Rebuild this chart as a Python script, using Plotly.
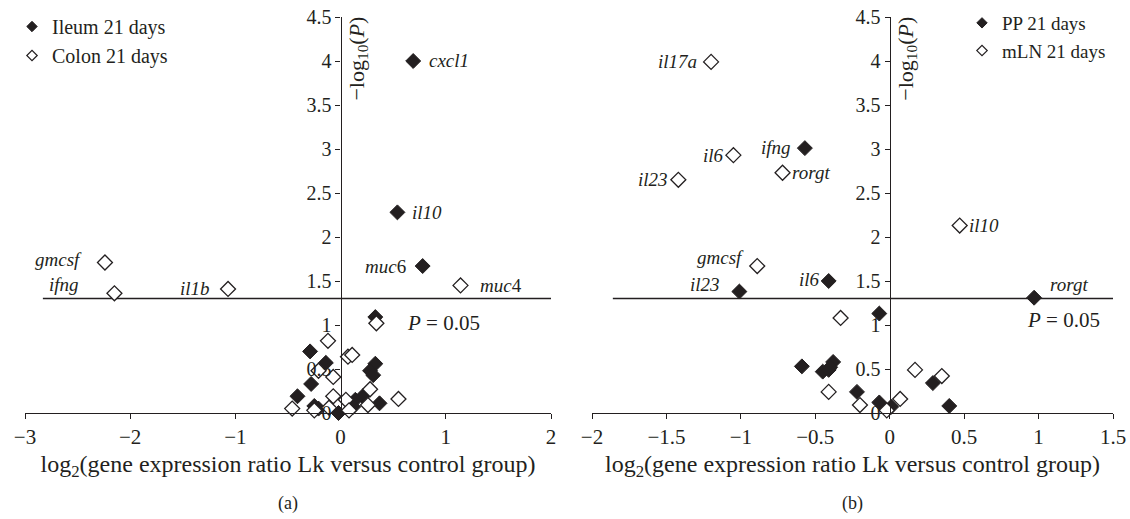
import math
import plotly.graph_objects as go

# page size (the body margin is removed by a post script so the figure fills the page)
W, H = 1130, 519

# ---------------- data ----------------
# Panel (a)
ileum_x = [0.69, 0.54, 0.78, 0.33, -0.29, -0.14, 0.33, 0.28, 0.31, -0.28, -0.41, 0.21, 0.14, 0.37, -0.25, -0.21, -0.02, 0.12]
ileum_y = [4.00, 2.28, 1.67, 1.09, 0.70, 0.57, 0.56, 0.48, 0.43, 0.33, 0.19, 0.19, 0.15, 0.11, 0.08, 0.05, 0.00, 0.07]
ileum_labels = ["<i>cxcl1</i>", "<i>il10</i>", "<i>muc</i>6"]

colon_x = [-2.24, -2.15, -1.07, 1.14, 0.34, -0.12, 0.07, 0.11, -0.21, -0.07, 0.28, -0.07, 0.05, 0.55, 0.26, -0.46, -0.25, -0.11, 0.08]
colon_y = [1.71, 1.36, 1.41, 1.45, 1.02, 0.82, 0.64, 0.66, 0.48, 0.41, 0.27, 0.19, 0.15, 0.16, 0.09, 0.05, 0.03, 0.06, 0.03]
colon_labels = ["<i>gmcsf</i>", "<i>ifng</i>", "<i>il1b</i>", "<i>muc</i>4"]

# Panel (b)
pp_x = [-0.57, -0.41, -1.01, 0.97, -0.07, -0.59, -0.45, -0.41, -0.38, -0.40, -0.22, -0.07, 0.01, 0.29, 0.40]
pp_y = [3.01, 1.50, 1.38, 1.31, 1.13, 0.53, 0.47, 0.49, 0.58, 0.52, 0.24, 0.12, 0.07, 0.34, 0.08]
pp_labels = ["<i>ifng</i>", "<i>il6</i>", "<i>il23</i>", "<i>rorgt</i>"]

mln_x = [-1.20, -1.05, -0.72, -1.42, -0.89, 0.47, -0.33, -0.41, -0.20, -0.02, 0.07, 0.17, 0.35]
mln_y = [3.99, 2.93, 2.73, 2.65, 1.67, 2.13, 1.08, 0.24, 0.09, 0.03, 0.16, 0.49, 0.42]
mln_labels = ["<i>il17a</i>", "<i>il6</i>", "<i>rorgt</i>", "<i>il23</i>", "<i>gmcsf</i>", "<i>il10</i>"]

p_threshold = 0.05
thr_a_x = [-2.83, 2.0]
thr_b_x = [-1.86, 1.5]

xticks_a = [-3, -2, -1, 0, 1, 2]
xticks_b = [-2, -1.5, -1, -0.5, 0, 0.5, 1, 1.5]
yticks = [0, 0.5, 1, 1.5, 2, 2.5, 3, 3.5, 4, 4.5]

# ---------------- style ----------------
INK = "#231f20"
FONT = "Liberation Serif"
MS = 11.5
LAB = 19

# label offsets (xshift, yshift, anchor) - style only
ileum_off = [(14, 0, "left"), (13, 0, "left"), (-15, 0, "right")]
colon_off = [(-21, 3, "right"), (-33, 9, "right"), (-16, 0, "right"), (17, 0, "left")]
pp_off = [(-12, 1, "right"), (-7, 2, "right"), (-17, 7, "right"), (14, 13, "left")]
mln_off = [(-12, 0, "right"), (-7, 0, "right"), (7, 0, "left"), (-8, 0, "right"), (-11, 9, "right"), (7, 0, "left")]

# pixel geometry (page pixels)
ax_a = (25, 551)
ax_b = (592, 1113)
plot_top, plot_bot = 17, 413


def px(v):
    return v / W


def py(v):
    return (H - v) / H


thr_y = -math.log10(p_threshold)

fig = go.Figure()

fig.add_trace(go.Scatter(x=thr_a_x, y=[thr_y, thr_y], mode="lines", line=dict(color=INK, width=1.3),
                         showlegend=False, hoverinfo="skip", xaxis="x", yaxis="y"))
fig.add_trace(go.Scatter(x=thr_b_x, y=[thr_y, thr_y], mode="lines", line=dict(color=INK, width=1.3),
                         showlegend=False, hoverinfo="skip", xaxis="x2", yaxis="y2"))

filled = dict(symbol="diamond", size=MS, color=INK, line=dict(color=INK, width=1))
opened = dict(symbol="diamond", size=MS, color="white", line=dict(color=INK, width=1.3))
filled_leg = dict(symbol="diamond", size=8, color=INK, line=dict(color=INK, width=1))
opened_leg = dict(symbol="diamond", size=8, color="white", line=dict(color=INK, width=1.2))

series = [
    ("Ileum 21 days", ileum_x, ileum_y, filled, filled_leg, "x", "y", "legend"),
    ("Colon 21 days", colon_x, colon_y, opened, opened_leg, "x", "y", "legend"),
    ("PP 21 days", pp_x, pp_y, filled, filled_leg, "x2", "y2", "legend2"),
    ("mLN 21 days", mln_x, mln_y, opened, opened_leg, "x2", "y2", "legend2"),
]
for name, xs, ys, mk, mkl, xa, ya, lg in series:
    fig.add_trace(go.Scatter(x=xs, y=ys, mode="markers", name=name, marker=mk, cliponaxis=False,
                             xaxis=xa, yaxis=ya, showlegend=False))
    # legend-only entry (smaller symbol, as in the reference legend)
    fig.add_trace(go.Scatter(x=[None], y=[None], mode="markers", name=name, marker=mkl,
                             xaxis=xa, yaxis=ya, legend=lg, showlegend=True))

annotations = []


def add_labels(xs, ys, labels, offs, xref, yref):
    for i, lab in enumerate(labels):
        dx, dy, anc = offs[i]
        annotations.append(dict(x=xs[i], y=ys[i], xref=xref, yref=yref, text=lab, showarrow=False,
                                xanchor=anc, yanchor="middle", xshift=dx, yshift=dy,
                                font=dict(family=FONT, size=LAB, color=INK)))


add_labels(ileum_x, ileum_y, ileum_labels, ileum_off, "x", "y")
add_labels(colon_x, colon_y, colon_labels, colon_off, "x", "y")
add_labels(pp_x, pp_y, pp_labels, pp_off, "x2", "y2")
add_labels(mln_x, mln_y, mln_labels, mln_off, "x2", "y2")

# P = 0.05 notes
annotations.append(dict(x=0.61, y=1.02, xref="x", yref="y", text="<i>P</i> = 0.05", showarrow=False,
                        xanchor="left", yanchor="middle", font=dict(family=FONT, size=21, color=INK)))
annotations.append(dict(x=0.91, y=1.06, xref="x2", yref="y2", text="<i>P</i> = 0.05", showarrow=False,
                        xanchor="left", yanchor="middle", font=dict(family=FONT, size=21, color=INK)))

# y-axis titles (rotated)
for xr, yr in (("x", "y"), ("x2", "y2")):
    annotations.append(dict(x=0, y=4.5, xref=xr, yref=yr, text="\u2212log<sub>10</sub>(<i>P</i>)",
                            showarrow=False, textangle=-90, xanchor="left", yanchor="top", xshift=1, yshift=2,
                            font=dict(family=FONT, size=22, color=INK)))

# panel letters
annotations.append(dict(x=px(sum(ax_a) / 2), y=py(503), xref="paper", yref="paper", text="(a)", showarrow=False,
                        xanchor="center", yanchor="middle", font=dict(family=FONT, size=18, color=INK)))
annotations.append(dict(x=px(sum(ax_b) / 2), y=py(503), xref="paper", yref="paper", text="(b)", showarrow=False,
                        xanchor="center", yanchor="middle", font=dict(family=FONT, size=18, color=INK)))

xtitle = "log<sub>2</sub>(gene expression ratio Lk versus control group)"

common_x = dict(showline=True, linecolor=INK, linewidth=1.3, ticks="outside", ticklen=5, tickwidth=1.3,
                tickcolor=INK, showgrid=False, zeroline=False, automargin=False, ticklabeloverflow="allow",
                tickfont=dict(family=FONT, size=21, color=INK))
common_y = dict(showline=True, linecolor=INK, linewidth=1.3, ticks="outside", ticklen=5, tickwidth=1.3,
                tickcolor=INK, showgrid=False, zeroline=False, range=[0, 4.5], tickvals=yticks,
                ticklabeloverflow="allow",
                tickfont=dict(family=FONT, size=20, color=INK), anchor="free", automargin=False)

x0_a = ax_a[0] + (0 - (-3)) / 5 * (ax_a[1] - ax_a[0])
x0_b = ax_b[0] + (0 - (-2)) / 3.5 * (ax_b[1] - ax_b[0])

fig.update_layout(
    width=W, height=H,
    margin=dict(l=0, r=0, t=0, b=0, autoexpand=False),
    paper_bgcolor="white", plot_bgcolor="white",
    font=dict(family=FONT, color=INK),
    xaxis=dict(domain=[px(ax_a[0]), px(ax_a[1])], range=[-3, 2], tickvals=xticks_a, anchor="y",
               title=dict(text=xtitle, font=dict(family=FONT, size=24, color=INK), standoff=6), **common_x),
    xaxis2=dict(domain=[px(ax_b[0]), px(ax_b[1])], range=[-2, 1.5], tickvals=xticks_b, anchor="y2",
                title=dict(text=xtitle, font=dict(family=FONT, size=24, color=INK), standoff=6), **common_x),
    yaxis=dict(domain=[py(plot_bot), py(plot_top)], position=px(x0_a), **common_y),
    yaxis2=dict(domain=[py(plot_bot), py(plot_top)], position=px(x0_b), **common_y),
    legend=dict(x=px(12), y=py(7), xanchor="left", yanchor="top", bgcolor="rgba(0,0,0,0)",
                font=dict(family=FONT, size=20, color=INK), itemsizing="trace", tracegroupgap=0),
    legend2=dict(x=px(962), y=py(4), xanchor="left", yanchor="top", bgcolor="rgba(0,0,0,0)",
                 font=dict(family=FONT, size=19, color=INK), itemsizing="trace", tracegroupgap=0),
    annotations=annotations,
    showlegend=True,
)

fig.write_html("out.html", config={"displayModeBar": False},
               post_script="document.body.style.margin='0';document.body.style.overflow='hidden';")
